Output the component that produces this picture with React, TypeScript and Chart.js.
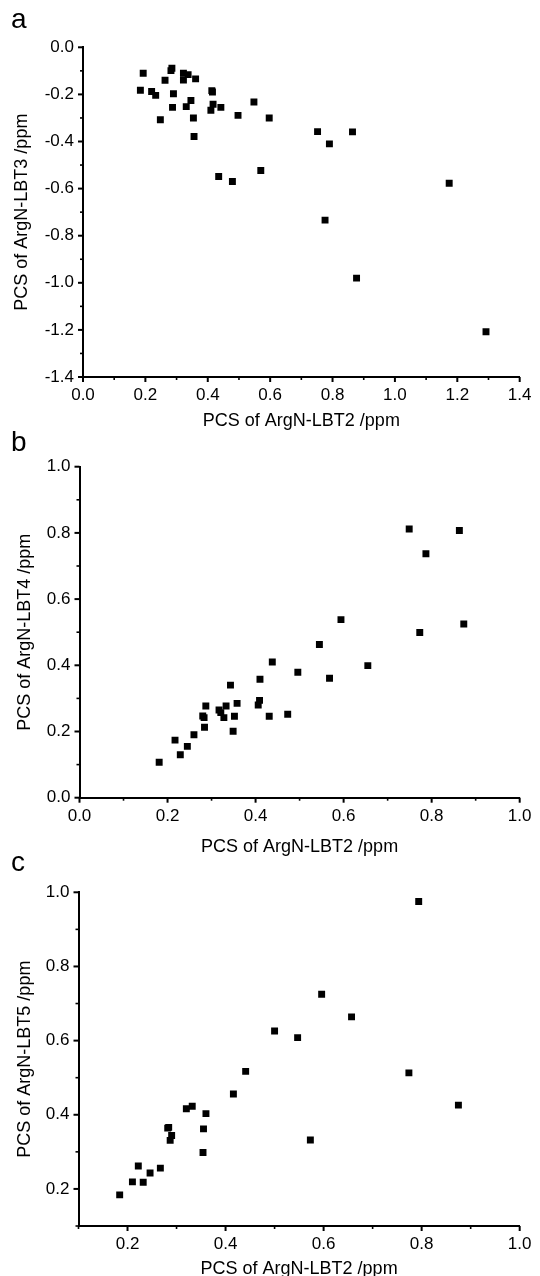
import React, { useEffect, useRef } from 'react';
import { Chart, registerables } from 'chart.js';

Chart.register(...registerables);

// ---------- data ----------
const lbt2A = [0.184, 0.193, 0.220, 0.233, 0.248, 0.263, 0.282, 0.285, 0.290, 0.287, 0.322, 0.322, 0.337, 0.331, 0.346, 0.354, 0.356, 0.361, 0.413, 0.415, 0.410, 0.417, 0.442, 0.435, 0.479, 0.497, 0.548, 0.570, 0.597, 0.752, 0.776, 0.790, 0.864, 0.877, 1.174, 1.292];
const lbt3A = [-0.182, -0.110, -0.188, -0.204, -0.308, -0.140, -0.099, -0.089, -0.197, -0.255, -0.110, -0.139, -0.116, -0.252, -0.226, -0.300, -0.379, -0.134, -0.184, -0.190, -0.267, -0.242, -0.255, -0.549, -0.570, -0.289, -0.232, -0.523, -0.300, -0.358, -0.734, -0.410, -0.359, -0.980, -0.577, -1.208];

const lbt2B = [0.181, 0.217, 0.229, 0.245, 0.260, 0.280, 0.283, 0.284, 0.287, 0.317, 0.321, 0.328, 0.333, 0.343, 0.349, 0.352, 0.358, 0.406, 0.409, 0.410, 0.431, 0.438, 0.473, 0.496, 0.545, 0.568, 0.594, 0.655, 0.749, 0.773, 0.787, 0.863, 0.873];
const lbt4B = [0.107, 0.174, 0.130, 0.155, 0.190, 0.247, 0.242, 0.213, 0.277, 0.265, 0.257, 0.242, 0.277, 0.340, 0.201, 0.246, 0.285, 0.280, 0.294, 0.358, 0.246, 0.410, 0.252, 0.379, 0.463, 0.361, 0.538, 0.399, 0.812, 0.499, 0.737, 0.807, 0.525];

const lbt2C = [0.184, 0.210, 0.222, 0.232, 0.246, 0.267, 0.282, 0.284, 0.290, 0.287, 0.320, 0.332, 0.354, 0.355, 0.360, 0.416, 0.441, 0.500, 0.547, 0.573, 0.596, 0.657, 0.774, 0.794, 0.875];
const lbt5C = [0.184, 0.219, 0.262, 0.218, 0.243, 0.256, 0.364, 0.366, 0.344, 0.331, 0.416, 0.423, 0.298, 0.362, 0.403, 0.456, 0.517, 0.626, 0.608, 0.332, 0.725, 0.664, 0.513, 0.975, 0.426];

const panelLetters = ['a', 'b', 'c'];
const xAxisTitle = 'PCS of ArgN-LBT2 /ppm';
const yAxisTitles = ['PCS of ArgN-LBT3 /ppm', 'PCS of ArgN-LBT4 /ppm', 'PCS of ArgN-LBT5 /ppm'];
const xRanges = [[0, 1.4], [0, 1.0], [0.1, 1.0]];
const yRanges = [[-1.4, 0], [0, 1.0], [0.1, 1.0]];
const majorStep = 0.2;

const FONT = '"Liberation Sans", Arial, Helvetica, sans-serif';

// ---------- layout (pixels) ----------
const boxes = [
  { y: 0, h: 434, top: 47.3, bottom: 377, left: 83, right: 526, yTitlePad: 13, xTitlePad: 3.5 },
  { y: 434, h: 426, top: 32.7, bottom: 363.7, left: 79.5, right: 526, yTitlePad: 16.5, xTitlePad: 4 },
  { y: 860, h: 416, top: 32.3, bottom: 366, left: 78.5, right: 525.5, yTitlePad: 16.5, xTitlePad: -1.7 },
];
const letterPos = [
  { top: 4.6, left: 11 },
  { top: 428, left: 11 },
  { top: 848, left: 11 },
];

const fmt = (v: number | string) => {
  const n = Number(v);
  return (Math.abs(n) < 1e-9 ? 0 : n).toFixed(1);
};

// major ticks only at multiples of the step, inside the axis range
const majorTicks = (s: any) => {
  const out: { value: number }[] = [];
  const k0 = Math.ceil(s.min / majorStep - 1e-6);
  const k1 = Math.floor(s.max / majorStep + 1e-6);
  for (let k = k0; k <= k1; k++) out.push({ value: Math.round(k * majorStep * 1e6) / 1e6 });
  s.ticks = out;
};

const tickMarks = {
  id: 'tickMarks',
  afterDraw(chart: any) {
    const ctx = chart.ctx;
    const area = chart.chartArea;
    ctx.save();
    ctx.strokeStyle = '#000';
    ['x', 'y'].forEach((id) => {
      const s = chart.scales[id];
      const minor = majorStep / 2;
      const start = Math.ceil(s.min / minor - 1e-6);
      const end = Math.floor(s.max / minor + 1e-6);
      for (let k = start; k <= end; k++) {
        const v = k * minor;
        const r = v / majorStep;
        const isMajor = Math.abs(r - Math.round(r)) < 1e-6;
        const len = isMajor ? 5 : 3;
        const p = s.getPixelForValue(v);
        ctx.lineWidth = isMajor ? 2 : 1.6;
        ctx.beginPath();
        if (id === 'x') {
          ctx.moveTo(p, area.bottom);
          ctx.lineTo(p, area.bottom + len);
        } else {
          ctx.moveTo(area.left, p);
          ctx.lineTo(area.left - len, p);
        }
        ctx.stroke();
      }
    });
    ctx.restore();
  },
};

function ScatterPanel({ idx, xs, ys }: { idx: number; xs: number[]; ys: number[] }) {
  const ref = useRef<HTMLCanvasElement>(null);
  const box = boxes[idx];
  useEffect(() => {
    const pts = xs.map((x, i) => ({ x, y: ys[i] }));
    const axisCommon = {
      type: 'linear' as const,
      bounds: 'data' as const,
      grid: { display: true, drawOnChartArea: false, drawTicks: false },
      border: { display: true, color: '#000', width: 2 },
      afterBuildTicks: majorTicks,
    };
    const chart = new Chart(ref.current as HTMLCanvasElement, {
      type: 'scatter',
      data: {
        datasets: [
          {
            data: pts,
            pointStyle: 'rect',
            radius: 4.9,
            hoverRadius: 4.9,
            backgroundColor: '#000',
            borderColor: '#000',
            borderWidth: 0,
          },
        ],
      },
      options: {
        responsive: false,
        animation: false,
        devicePixelRatio: 1,
        events: [],
        layout: { padding: { left: 0, right: 540 - box.right, top: box.top, bottom: 0 } },
        plugins: { legend: { display: false }, tooltip: { enabled: false } },
        scales: {
          x: {
            ...axisCommon,
            min: xRanges[idx][0],
            max: xRanges[idx][1],
            afterFit: (s: any) => {
              s.height = box.h - box.bottom;
            },
            ticks: {
              stepSize: majorStep,
              autoSkip: false,
              maxRotation: 0,
              padding: 8.5,
              color: '#000',
              font: { family: FONT, size: 17 },
              callback: fmt,
            },
            title: {
              display: true,
              text: xAxisTitle,
              color: '#000',
              font: { family: FONT, size: 18, lineHeight: 1 },
              padding: { top: 0, bottom: box.xTitlePad },
            },
          },
          y: {
            ...axisCommon,
            min: yRanges[idx][0],
            max: yRanges[idx][1],
            afterFit: (s: any) => {
              s.width = box.left;
            },
            ticks: {
              stepSize: majorStep,
              autoSkip: false,
              padding: 9,
              color: '#000',
              font: { family: FONT, size: 17 },
              callback: fmt,
            },
            title: {
              display: true,
              text: yAxisTitles[idx],
              color: '#000',
              font: { family: FONT, size: 18, lineHeight: 1 },
              padding: { top: box.yTitlePad, bottom: 0 },
            },
          },
        },
      } as any,
      plugins: [tickMarks],
    });
    return () => chart.destroy();
  }, []);
  return (
    <canvas
      ref={ref}
      width={540}
      height={box.h}
      style={{ position: 'absolute', left: 0, top: box.y, width: 540, height: box.h, display: 'block' }}
    />
  );
}

export default function App() {
  const series = [
    { xs: lbt2A, ys: lbt3A },
    { xs: lbt2B, ys: lbt4B },
    { xs: lbt2C, ys: lbt5C },
  ];
  return (
    <div
      style={{
        position: 'absolute',
        left: 0,
        top: 0,
        width: 540,
        height: 1276,
        background: '#fff',
        fontFamily: FONT,
        overflow: 'hidden',
      }}
    >
      {series.map((s, i) => (
        <ScatterPanel key={i} idx={i} xs={s.xs} ys={s.ys} />
      ))}
      {panelLetters.map((l, i) => (
        <div
          key={l}
          style={{
            position: 'absolute',
            left: letterPos[i].left,
            top: letterPos[i].top,
            fontSize: 28,
            lineHeight: 1,
            color: '#000',
          }}
        >
          {l}
        </div>
      ))}
    </div>
  );
}
